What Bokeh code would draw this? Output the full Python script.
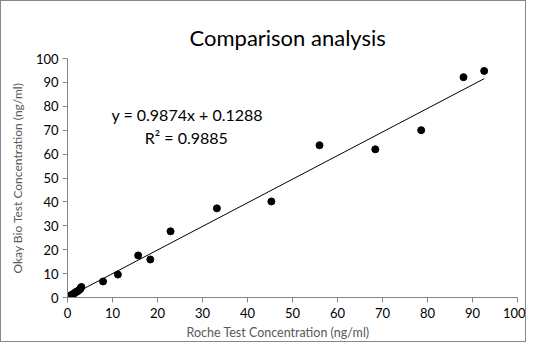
from bokeh.plotting import figure
from bokeh.models import Label, FixedTicker, Range1d, Title
from bokeh.embed import file_html
from bokeh.resources import INLINE

roche = [0.2, 0.5, 0.8, 1.0, 1.3, 1.6, 1.9, 2.2, 2.5, 2.8, 2.9, 3.1,
         7.9, 11.2, 15.7, 18.4, 22.9, 33.2, 45.3, 56.0, 68.4, 78.6, 88.0, 92.6]
okay = [0.1, 0.6, 0.9, 1.2, 1.5, 1.9, 2.3, 2.6, 3.0, 3.5, 3.9, 4.4,
        6.7, 9.6, 17.6, 15.9, 27.7, 37.3, 40.2, 63.7, 62.0, 70.0, 92.2, 94.8]
ticks = [0, 10, 20, 30, 40, 50, 60, 70, 80, 90, 100]
slope = 0.9874
intercept = 0.1288
eq_text = "y = 0.9874x + 0.1288"
r2_text = "R\u00b2 = 0.9885"
title_text = "Comparison analysis"
xlabel = "Roche Test Concentration (ng/ml)"
ylabel = "Okay Bio Test Concentration (ng/ml)"

FONT = "Lato"

p = figure(width=526, height=342, output_backend="svg", toolbar_location=None,
           x_range=Range1d(0, 100), y_range=Range1d(0, 100),
           min_border_left=66, min_border_right=10, min_border_top=57, min_border_bottom=46)
p.styles = {"border": "1px solid #878787"}
p.outline_line_color = None
p.xgrid.visible = False
p.ygrid.visible = False

for ax in (p.xaxis, p.yaxis):
    ax.ticker = FixedTicker(ticks=ticks)
    ax.axis_line_color = "#868686"
    ax.major_tick_line_color = "#868686"
    ax.major_tick_in = 0
    ax.major_tick_out = 5
    ax.minor_tick_line_color = None
    ax.major_label_text_font = FONT
    ax.major_label_text_font_size = "13px"
    ax.major_label_text_color = "#000000"
p.xaxis.major_label_standoff = 5
p.yaxis.major_label_standoff = 4
p.yaxis.axis_label = ylabel
p.yaxis.axis_label_text_font = FONT
p.yaxis.axis_label_text_font_size = "12px"
p.yaxis.axis_label_text_font_style = "normal"
p.yaxis.axis_label_text_color = "#595959"
p.yaxis.axis_label_standoff = 8

# trend line from fitted coefficients over data range
x0, x1 = min(roche), max(roche)
p.line([x0, x1], [slope * x0 + intercept, slope * x1 + intercept],
       line_color="black", line_width=1)
p.scatter(roche, okay, size=7, fill_color="black", line_color="black")

p.add_layout(Label(x=26.6, y=76.7, text=eq_text, text_font=FONT, text_font_size="16px",
                   text_align="center", text_baseline="middle", text_color="black"))
p.add_layout(Label(x=26.4, y=67.1, text=r2_text, text_font=FONT, text_font_size="16px",
                   text_align="center", text_baseline="middle", text_color="black"))

p.add_layout(Title(text=title_text, align="left", offset=122, text_font=FONT,
                   text_font_size="22px", text_font_style="normal", text_color="black",
                   standoff=16), "above")
p.add_layout(Title(text=xlabel, align="left", offset=119, text_font=FONT,
                   text_font_size="12.5px", text_font_style="normal", text_color="#595959",
                   standoff=4), "below")

open("out.html", "w").write(file_html(p, INLINE))
